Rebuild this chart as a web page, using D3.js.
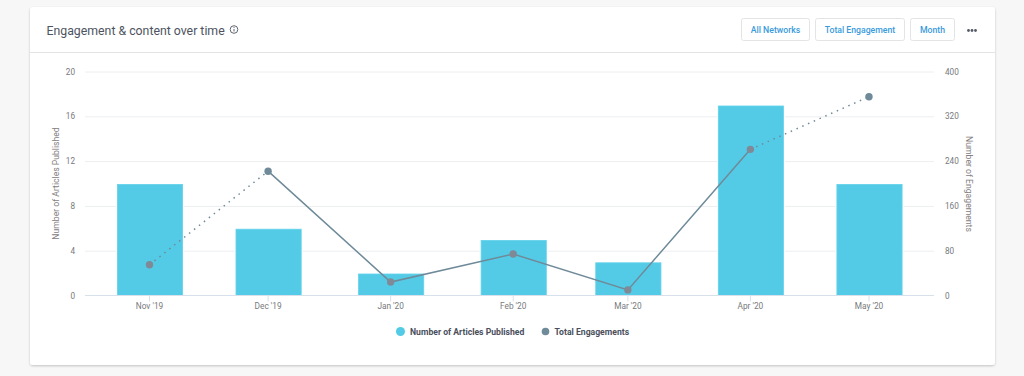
<!DOCTYPE html>
<html>
<head>
<meta charset="utf-8">
<script src="https://cdn.jsdelivr.net/npm/d3@7/dist/d3.min.js"></script>
<style>
  html, body { margin: 0; padding: 0; background: #f7f7f7; }
  svg { display: block; font-family: Roboto, sans-serif; }
</style>
</head>
<body>
<div id="chart"></div>
<script>
// --------------------------------------
//  Data
// --------------------------------------

const months = ["2019-11-01", "2019-12-01", "2020-01-01", "2020-02-01", "2020-03-01", "2020-04-01", "2020-05-01"];
const monthLabels = ["Nov '19", "Dec '19", "Jan '20", "Feb '20", "Mar '20", "Apr '20", "May '20"];
const articles = [10, 6, 2, 5, 3, 17, 10];
const engagements = [55, 222, 24, 74, 10, 261, 355];
const articleTicks = [0, 4, 8, 12, 16, 20];
const engagementTicks = [0, 80, 160, 240, 320, 400];
const buttons = ["All Networks", "Total Engagement", "Month"];
const buttonEdges = [[741, 809], [815, 904], [910, 954]];

const width = 1024;
const height = 376;
const plot = { left: 85, right: 934, top: 71.5, bottom: 295.5 };
const barWidth = 66;
const barColor = "#54cbe6";
const lineColor = "#6f8a99";
const lineOnBarColor = "#7f8a96";

const dates = months.map(d => new Date(d + "T00:00:00Z"));

// --------------------------------------
//  Canvas
// --------------------------------------

const svg = d3.select("#chart")
  .append("svg")
    .attr("width", width)
    .attr("height", height);

const defs = svg.append("defs");
const shadow = defs.append("filter")
    .attr("id", "cardShadow")
    .attr("x", "-2%").attr("y", "-3%")
    .attr("width", "104%").attr("height", "106%");
shadow.append("feDropShadow")
    .attr("dx", 0).attr("dy", 1)
    .attr("stdDeviation", 1.2)
    .attr("flood-color", "#000")
    .attr("flood-opacity", 0.22);

svg.append("rect")
    .attr("x", 30).attr("y", 7)
    .attr("width", 965).attr("height", 358)
    .attr("rx", 3)
    .attr("fill", "#fff")
    .attr("filter", "url(#cardShadow)");

svg.append("line")
    .attr("x1", 30).attr("x2", 995)
    .attr("y1", 52.5).attr("y2", 52.5)
    .attr("stroke", "#e4e4e4");

// --------------------------------------
//  Header
// --------------------------------------

svg.append("text")
    .attr("x", 46.5).attr("y", 34.5)
    .attr("font-size", 12.3)
    .attr("fill", "#4d5361")
    .text("Engagement & content over time");

const info = svg.append("g").attr("transform", "translate(234, 29.5)");
info.append("circle").attr("r", 3.8).attr("fill", "none").attr("stroke", "#5f6571").attr("stroke-width", 1);
info.append("line").attr("y1", -0.6).attr("y2", 2).attr("stroke", "#5f6571").attr("stroke-width", 1);
info.append("circle").attr("cy", -2).attr("r", 0.6).attr("fill", "#5f6571");

buttons.forEach((label, i) => {
  const [x0, x1] = buttonEdges[i];
  svg.append("rect")
      .attr("x", x0 + 0.5).attr("y", 18.5)
      .attr("width", x1 - x0).attr("height", 22)
      .attr("rx", 2)
      .attr("fill", "#fff")
      .attr("stroke", "#e2e4e6");
  svg.append("text")
      .attr("x", (x0 + x1) / 2 + 0.5).attr("y", 32.8)
      .attr("text-anchor", "middle")
      .attr("font-size", 8.7)
      .attr("font-weight", 500)
      .attr("fill", "#3a9bdc")
      .text(label);
});

svg.selectAll(".more")
  .data([968.5, 972, 975.5])
  .join("circle")
    .attr("class", "more")
    .attr("cx", d => d).attr("cy", 30.5)
    .attr("r", 1.4)
    .attr("fill", "#555b66");

// --------------------------------------
//  Scales
// --------------------------------------

// months have different lengths, so the categories sit on a real time scale
const x = d3.scaleUtc()
    .domain(d3.extent(dates))
    .range([149.5, 869]);

const yLeft = d3.scaleLinear()
    .domain([0, 20])
    .range([plot.bottom, plot.top]);

const yRight = d3.scaleLinear()
    .domain([0, 400])
    .range([plot.bottom, plot.top]);

// --------------------------------------
//  Axes
// --------------------------------------

const grid = svg.append("g")
    .attr("transform", `translate(${plot.left}, 0)`)
    .call(d3.axisLeft(yLeft)
      .tickValues(articleTicks.slice(1))
      .tickSize(-(plot.right - plot.left))
      .tickFormat(""));
grid.select(".domain").remove();
grid.selectAll("line").attr("stroke", "#eceef0");

const leftAxis = svg.append("g")
    .attr("transform", `translate(${plot.left}, 0)`)
    .call(d3.axisLeft(yLeft).tickValues(articleTicks).tickSize(0).tickPadding(10));
leftAxis.select(".domain").remove();
leftAxis.selectAll("text")
    .attr("font-family", "Roboto, sans-serif")
    .attr("font-size", 8.2)
    .attr("fill", "#77797d");

const rightAxis = svg.append("g")
    .attr("transform", `translate(${plot.right}, 0)`)
    .call(d3.axisRight(yRight).tickValues(engagementTicks).tickSize(0).tickPadding(11));
rightAxis.select(".domain").remove();
rightAxis.selectAll("text")
    .attr("font-family", "Roboto, sans-serif")
    .attr("font-size", 8.2)
    .attr("fill", "#77797d");

svg.append("text")
    .attr("transform", "translate(58.5, 183.5) rotate(-90)")
    .attr("text-anchor", "middle")
    .attr("font-size", 8.65)
    .attr("fill", "#85807f")
    .text("Number of Articles Published");

svg.append("text")
    .attr("transform", "translate(966, 184) rotate(90)")
    .attr("text-anchor", "middle")
    .attr("font-size", 8.65)
    .attr("fill", "#85807f")
    .text("Number of Engagements");

// --------------------------------------
//  Bars
// --------------------------------------

svg.selectAll(".halo")
  .data(articles)
  .join("rect")
    .attr("class", "halo")
    .attr("x", (d, i) => x(dates[i]) - barWidth / 2 - 0.5)
    .attr("y", d => yLeft(d) - 0.5)
    .attr("width", barWidth + 2)
    .attr("height", d => yLeft(0) - yLeft(d) + 0.5)
    .attr("fill", "#fff");

// inset by half the stroke so the bar keeps its outer width
svg.selectAll(".bar")
  .data(articles)
  .join("rect")
    .attr("class", "bar")
    .attr("x", (d, i) => x(dates[i]) - barWidth / 2 + 0.9)
    .attr("y", d => yLeft(d) + 0.9)
    .attr("width", barWidth - 0.8)
    .attr("height", d => yLeft(0) - yLeft(d) - 0.9)
    .attr("fill", barColor)
    .attr("stroke", "#62d3ec")
    .attr("stroke-width", 0.8);

// baseline and ticks go over the bars
svg.append("line")
    .attr("x1", plot.left).attr("x2", plot.right)
    .attr("y1", plot.bottom).attr("y2", plot.bottom)
    .attr("stroke", "#d8e0ec");

svg.selectAll(".xtick")
  .data(dates)
  .join("line")
    .attr("class", "xtick")
    .attr("x1", d => x(d)).attr("x2", d => x(d))
    .attr("y1", plot.bottom).attr("y2", plot.bottom + 6)
    .attr("stroke", "#d8e0ec");

svg.selectAll(".xlabel")
  .data(dates)
  .join("text")
    .attr("class", "xlabel")
    .attr("x", d => x(d))
    .attr("y", 309)
    .attr("text-anchor", "middle")
    .attr("font-size", 8.3)
    .attr("fill", "#77797d")
    .text((d, i) => monthLabels[i]);

// --------------------------------------
//  Line
// --------------------------------------

const points = engagements.map((v, i) => ({ date: dates[i], value: v, bar: articles[i] }));

const line = d3.line()
    .x(d => x(d.date))
    .y(d => yRight(d.value));

// first and last stretches are dotted, as partial periods
svg.append("path")
    .datum(points.slice(1, 6))
    .attr("d", line)
    .attr("fill", "none")
    .attr("stroke", lineColor)
    .attr("stroke-width", 1.5);

[points.slice(0, 2), points.slice(5, 7)].forEach(seg => {
  svg.append("path")
      .datum(seg)
      .attr("d", line)
      .attr("fill", "none")
      .attr("stroke", lineColor)
      .attr("stroke-width", 1.5)
      .attr("stroke-dasharray", "1.5 4.8");
});

// markers sitting on a bar read greyer than the ones on white
svg.selectAll(".point")
  .data(points)
  .join("circle")
    .attr("class", "point")
    .attr("cx", d => x(d.date))
    .attr("cy", d => yRight(d.value))
    .attr("r", 3.7)
    .attr("fill", d => yRight(d.value) > yLeft(d.bar) ? lineOnBarColor : lineColor);

// --------------------------------------
//  Legend
// --------------------------------------

const legend = svg.append("g");

legend.append("circle")
    .attr("cx", 400.5).attr("cy", 331.5).attr("r", 4.5)
    .attr("fill", barColor);
legend.append("text")
    .attr("x", 410).attr("y", 334.5)
    .attr("font-size", 8.65)
    .attr("font-weight", 700)
    .attr("fill", "#4a4f5c")
    .text("Number of Articles Published");

legend.append("circle")
    .attr("cx", 545.5).attr("cy", 331.5).attr("r", 3.8)
    .attr("fill", lineColor);
legend.append("text")
    .attr("x", 554.5).attr("y", 334.5)
    .attr("font-size", 8.65)
    .attr("font-weight", 700)
    .attr("fill", "#4a4f5c")
    .text("Total Engagements");
</script>
</body>
</html>
